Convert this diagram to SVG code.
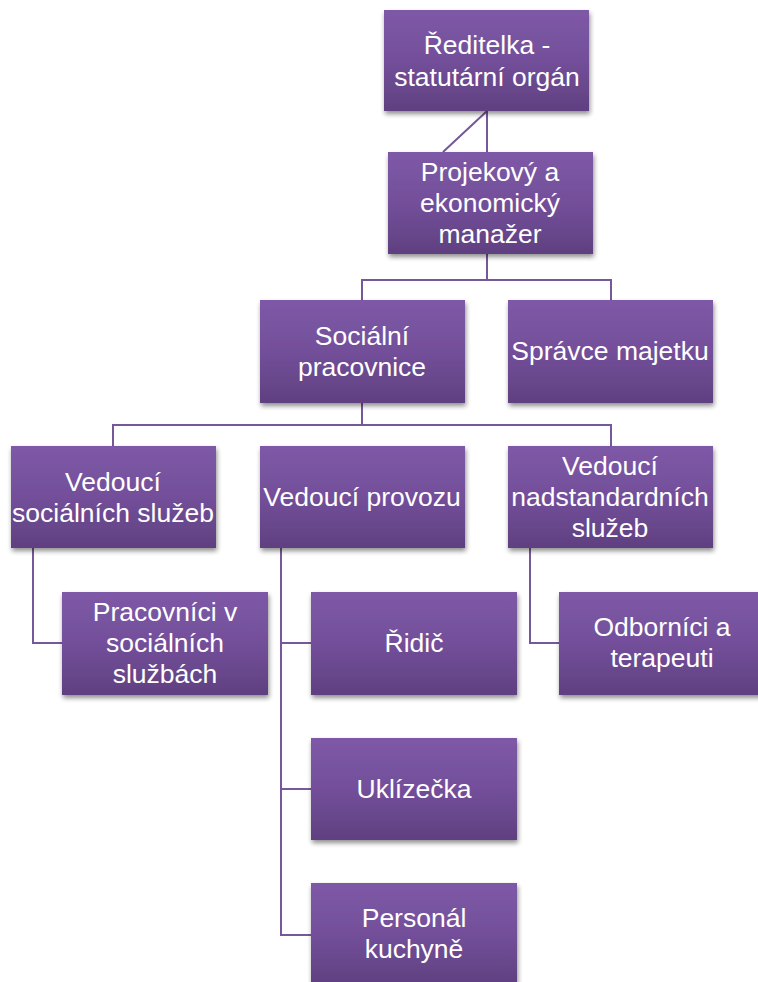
<svg xmlns="http://www.w3.org/2000/svg" width="758" height="982" viewBox="0 0 758 982">
<defs>
<linearGradient id="g" x1="0" y1="0" x2="0" y2="1">
<stop offset="0" stop-color="#7e59a7"/>
<stop offset="0.5" stop-color="#734f9a"/>
<stop offset="1" stop-color="#5f4080"/>
</linearGradient>
<filter id="sh" x="-10%" y="-10%" width="125%" height="130%">
<feGaussianBlur in="SourceAlpha" stdDeviation="2.5"/>
<feOffset dx="1" dy="3" result="b"/>
<feComponentTransfer><feFuncA type="linear" slope="0.45"/></feComponentTransfer>
<feMerge><feMergeNode/><feMergeNode in="SourceGraphic"/></feMerge>
</filter>
</defs>
<style>
.box{fill:url(#g);filter:url(#sh)}
.t{font-family:"Liberation Sans",Arial,sans-serif;font-size:26.5px;fill:#ffffff;text-anchor:middle}
.c{fill:none;stroke:#765799;stroke-width:2}
</style>
<rect width="758" height="982" fill="#ffffff"/>
<g id="connectors">
<path class="c" d="M487 111V152M487 111L443 152"/>
<path class="c" d="M487 254V280M362 300V280H611V300"/>
<path class="c" d="M362 403V425M113 446V425H611V446"/>
<path class="c" d="M33 548V643H62"/>
<path class="c" d="M281 548V935H311M281 643H311M281 789H311"/>
<path class="c" d="M530 548V643H559"/>
</g>
<g id="n1"><rect class="box" x="384" y="10" width="205" height="101"/><text class="t" x="487" y="54">Ředitelka -</text><text class="t" x="487" y="86">statutární orgán</text></g>
<g id="n2"><rect class="box" x="388" y="152" width="205" height="102"/><text class="t" x="490" y="181">Projekový a</text><text class="t" x="490" y="212">ekonomický</text><text class="t" x="490" y="243">manažer</text></g>
<g id="n3"><rect class="box" x="260" y="300" width="205" height="103"/><text class="t" x="362" y="345">Sociální</text><text class="t" x="362" y="376">pracovnice</text></g>
<g id="n4"><rect class="box" x="508" y="300" width="205" height="103"/><text class="t" x="610" y="360">Správce majetku</text></g>
<g id="n5"><rect class="box" x="11" y="446" width="205" height="102"/><text class="t" x="113" y="491">Vedoucí</text><text class="t" x="113" y="522">sociálních služeb</text></g>
<g id="n6"><rect class="box" x="260" y="446" width="205" height="102"/><text class="t" x="362" y="506">Vedoucí provozu</text></g>
<g id="n7"><rect class="box" x="508" y="446" width="205" height="102"/><text class="t" x="610" y="475">Vedoucí</text><text class="t" x="610" y="506">nadstandardních</text><text class="t" x="610" y="537">služeb</text></g>
<g id="n8"><rect class="box" x="62" y="592" width="206" height="103"/><text class="t" x="165" y="621">Pracovníci v</text><text class="t" x="165" y="652">sociálních</text><text class="t" x="165" y="683">službách</text></g>
<g id="n9"><rect class="box" x="311" y="592" width="206" height="103"/><text class="t" x="414" y="652">Řidič</text></g>
<g id="n10"><rect class="box" x="311" y="738" width="206" height="102"/><text class="t" x="414" y="798">Uklízečka</text></g>
<g id="n11"><rect class="box" x="311" y="883" width="206" height="102"/><text class="t" x="414" y="927">Personál</text><text class="t" x="414" y="958">kuchyně</text></g>
<g id="n12"><rect class="box" x="559" y="592" width="206" height="103"/><text class="t" x="662" y="636">Odborníci a</text><text class="t" x="662" y="667">terapeuti</text></g>
</svg>
